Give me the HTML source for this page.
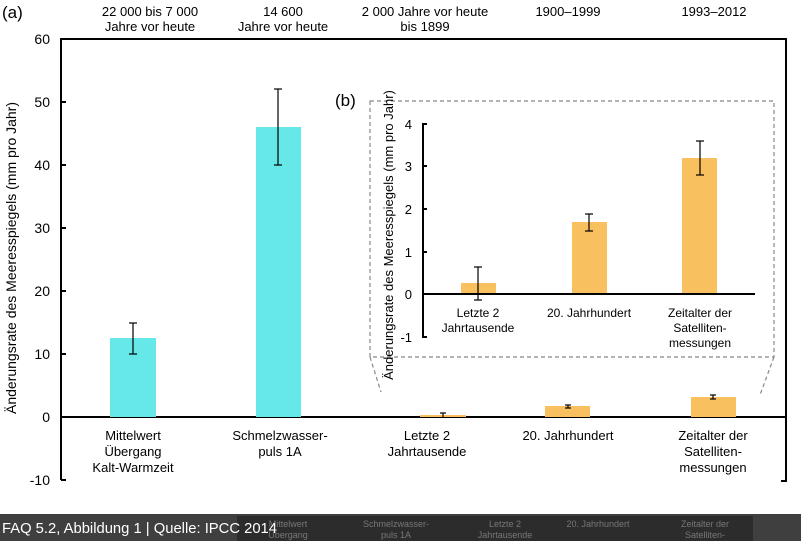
<!DOCTYPE html>
<html><head><style>
body{margin:0;width:801px;height:541px;overflow:hidden;background:#fff;font-family:"Liberation Sans",sans-serif}
</style></head><body>
<svg width="801" height="541" xmlns="http://www.w3.org/2000/svg" font-family="Liberation Sans, sans-serif" font-size="13">
<rect width="801" height="541" fill="#fff"/>
<text x="2" y="18" font-size="17">(a)</text>
<g text-anchor="middle" font-size="13">
<text x="150" y="16">22 000 bis 7 000</text><text x="150" y="31">Jahre vor heute</text>
<text x="283" y="16">14 600</text><text x="283" y="31">Jahre vor heute</text>
<text x="425" y="16">2 000 Jahre vor heute</text><text x="425" y="31">bis 1899</text>
<text x="568" y="16">1900–1999</text>
<text x="714" y="16">1993–2012</text>
</g>
<g stroke="#000" stroke-width="2" fill="none">
<polyline points="61,480 61,39 786,39 786,481 781,481"/>
<line x1="61" y1="417" x2="786" y2="417"/>
<line x1="61" y1="102" x2="66" y2="102"/><line x1="61" y1="165" x2="66" y2="165"/><line x1="61" y1="228" x2="66" y2="228"/><line x1="61" y1="291" x2="66" y2="291"/><line x1="61" y1="354" x2="66" y2="354"/><line x1="61" y1="480" x2="66" y2="480"/>
</g>
<g text-anchor="end" font-size="14">
<text x="50" y="44">60</text><text x="50" y="107">50</text><text x="50" y="170">40</text><text x="50" y="233">30</text><text x="50" y="296">20</text><text x="50" y="359">10</text><text x="50" y="422">0</text><text x="50" y="485">-10</text>
</g>
<text transform="translate(16,258) rotate(-90)" text-anchor="middle" font-size="14">Änderungsrate des Meeresspiegels (mm pro Jahr)</text>
<rect x="110" y="338" width="46" height="79" fill="#66e8e8"/>
<rect x="256" y="127" width="45" height="290" fill="#66e8e8"/>
<rect x="420" y="415" width="46" height="2" fill="#f9c060"/>
<rect x="545" y="406" width="45" height="11" fill="#f9c060"/>
<rect x="691" y="397" width="45" height="20" fill="#f9c060"/>
<g stroke="#000" stroke-width="1.2">
<line x1="133" y1="323" x2="133" y2="354"/><line x1="129" y1="323" x2="137" y2="323"/><line x1="129" y1="354" x2="137" y2="354"/>
<line x1="278" y1="89" x2="278" y2="165"/><line x1="274" y1="89" x2="282" y2="89"/><line x1="274" y1="165" x2="282" y2="165"/>
<line x1="443" y1="413" x2="443" y2="418"/><line x1="440" y1="413" x2="446" y2="413"/>
<line x1="568" y1="405" x2="568" y2="408"/><line x1="565" y1="405" x2="571" y2="405"/><line x1="565" y1="408" x2="571" y2="408"/>
<line x1="713" y1="395" x2="713" y2="399"/><line x1="710" y1="395" x2="716" y2="395"/><line x1="710" y1="399" x2="716" y2="399"/>
</g>
<g text-anchor="middle" font-size="13">
<text x="133" y="440">Mittelwert</text><text x="133" y="456">Übergang</text><text x="133" y="472">Kalt-Warmzeit</text>
<text x="280" y="440">Schmelzwasser-</text><text x="280" y="456">puls 1A</text>
<text x="427" y="440">Letzte 2</text><text x="427" y="456">Jahrtausende</text>
<text x="568" y="440">20. Jahrhundert</text>
<text x="713" y="440">Zeitalter der</text><text x="713" y="456">Satelliten-</text><text x="713" y="472">messungen</text>
</g>
<g stroke="#888" stroke-width="1.2" stroke-dasharray="4,3" fill="none">
<rect x="370" y="101" width="404" height="256"/>
<line x1="370" y1="357" x2="381" y2="392"/><line x1="774" y1="357" x2="760" y2="395"/>
</g>
<text x="335" y="106" font-size="17">(b)</text>
<rect x="461" y="283" width="35" height="11" fill="#f9c060"/>
<rect x="572" y="222" width="35" height="72" fill="#f9c060"/>
<rect x="682" y="158" width="35" height="136" fill="#f9c060"/>
<g stroke="#000" stroke-width="2" fill="none">
<polyline points="427,124 423,124 423,337 427,337"/>
<line x1="423" y1="294" x2="755" y2="294"/>
<line x1="423" y1="166" x2="427" y2="166"/><line x1="423" y1="209" x2="427" y2="209"/><line x1="423" y1="252" x2="427" y2="252"/>
</g>
<g stroke="#000" stroke-width="1.2">
<line x1="478" y1="267" x2="478" y2="300"/><line x1="474" y1="267" x2="482" y2="267"/><line x1="474" y1="300" x2="482" y2="300"/>
<line x1="589" y1="214" x2="589" y2="231"/><line x1="585" y1="214" x2="593" y2="214"/><line x1="585" y1="231" x2="593" y2="231"/>
<line x1="700" y1="141" x2="700" y2="175"/><line x1="696" y1="141" x2="704" y2="141"/><line x1="696" y1="175" x2="704" y2="175"/>
</g>
<g text-anchor="end" font-size="13">
<text x="412" y="129">4</text><text x="412" y="171">3</text><text x="412" y="214">2</text><text x="412" y="257">1</text><text x="412" y="299">0</text><text x="412" y="342">-1</text>
</g>
<text transform="translate(393,235) rotate(-90)" text-anchor="middle" font-size="13">Änderungsrate des Meeresspiegels (mm pro Jahr)</text>
<g text-anchor="middle" font-size="12">
<text x="478" y="317">Letzte 2</text><text x="478" y="332">Jahrtausende</text>
<text x="589" y="317">20. Jahrhundert</text>
<text x="700" y="317">Zeitalter der</text><text x="700" y="332">Satelliten-</text><text x="700" y="347">messungen</text>
</g>
<rect x="0" y="514" width="801" height="27" fill="#3f3f3f"/>
<rect x="237" y="516" width="516" height="25" fill="#2c2c2c"/>
<g fill="#777" font-size="9" text-anchor="middle">
<text x="288" y="527">Mittelwert</text><text x="288" y="538">Übergang</text>
<text x="396" y="527">Schmelzwasser-</text><text x="396" y="538">puls 1A</text>
<text x="505" y="527">Letzte 2</text><text x="505" y="538">Jahrtausende</text>
<text x="598" y="527">20. Jahrhundert</text>
<text x="705" y="527">Zeitalter der</text><text x="705" y="538">Satelliten-</text>
</g>
<text x="2" y="533" fill="#fff" font-size="15" textLength="275" lengthAdjust="spacingAndGlyphs">FAQ 5.2, Abbildung 1 | Quelle: IPCC 2014</text>
</svg>
</body></html>
